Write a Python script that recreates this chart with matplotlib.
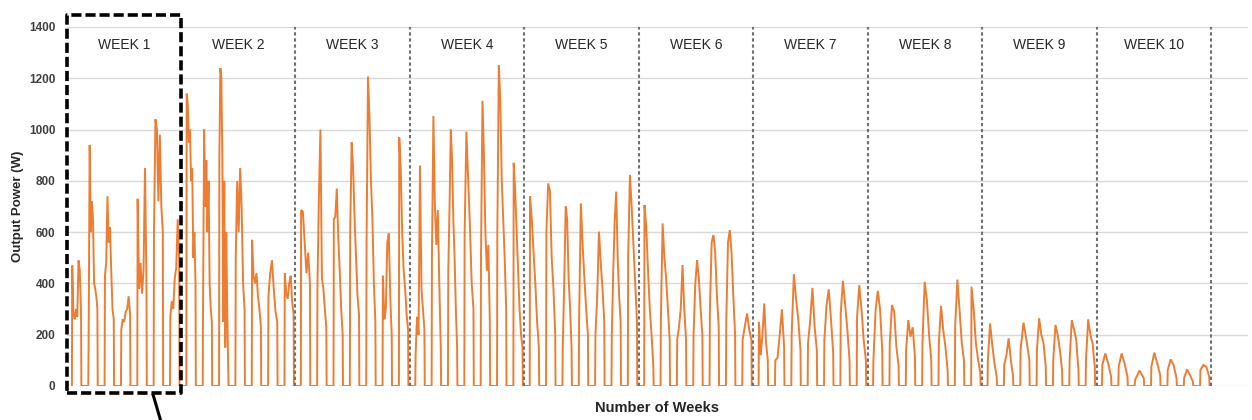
import numpy as np
import matplotlib
matplotlib.use("Agg")
import matplotlib.pyplot as plt

plt.rcParams['font.family'] = ['Liberation Sans', 'DejaVu Sans']

# ---------------- data ----------------
week_labels = ["WEEK 1", "WEEK 2", "WEEK 3", "WEEK 4", "WEEK 5",
               "WEEK 6", "WEEK 7", "WEEK 8", "WEEK 9", "WEEK 10"]
y_ticks = [0, 200, 400, 600, 800, 1000, 1200, 1400]

# daylight readings of output power (W) for each day, in time order
week1_days = [
    [470, 280, 260, 300, 270, 490, 450, 280],
    [150, 940, 600, 720, 650, 400, 380, 350, 300],
    [430, 480, 740, 560, 620, 450, 300, 260],
    [220, 260, 250, 290, 300, 350, 280],
    [730, 380, 480, 360, 450, 850, 400],
    [600, 1040, 1000, 720, 980, 700, 600],
    [270, 330, 300, 420, 460, 650, 500],
]
week2_days = [
    [1140, 1100, 950, 1000, 800, 850, 500, 600, 400],
    [300, 1000, 700, 880, 600, 800, 400, 300, 250],
    [900, 1240, 1200, 900, 250, 800, 150, 600, 300, 80],
    [500, 800, 600, 850, 700, 400, 300],
    [570, 430, 400, 440, 350, 300, 230],
    [350, 440, 490, 380, 290, 250],
    [440, 360, 340, 400, 430, 330, 280],
]
week3_days = [
    [686, 680, 560, 440, 520, 400],
    [400, 750, 1000, 420, 380, 300, 230],
    [650, 660, 770, 580, 450, 300, 200],
    [600, 950, 850, 650, 500, 350, 280],
    [550, 1206, 1050, 800, 650, 400, 250],
    [430, 260, 300, 560, 595, 350, 200],
    [970, 850, 600, 450, 380, 280, 220],
]
week4_days = [
    [120, 270, 200, 860, 380, 300, 220],
    [500, 1053, 700, 550, 686, 400, 150],
    [450, 700, 1000, 880, 650, 500, 300, 150],
    [600, 992, 800, 620, 400, 300],
    [500, 1112, 900, 600, 450, 550, 250],
    [600, 1250, 1115, 800, 650, 500, 300],
    [870, 760, 600, 450, 300, 200, 150],
]
week5_days = [
    [740, 650, 520, 400, 250, 150],
    [600, 790, 760, 500, 380, 200],
    [150, 400, 700, 650, 420, 300, 150],
    [250, 712, 550, 420, 300, 200],
    [200, 350, 602, 480, 380, 250],
    [200, 450, 650, 758, 500, 350, 250],
    [500, 823, 700, 550, 400, 250],
]
week6_days = [
    [706, 620, 450, 300, 200, 80],
    [250, 634, 500, 420, 300, 180],
    [180, 230, 300, 472, 300, 180],
    [200, 400, 491, 420, 300, 200],
    [300, 560, 589, 520, 350, 230],
    [250, 560, 608, 520, 350, 200],
    [180, 231, 283, 220, 180],
]
week7_days = [
    [250, 120, 200, 322, 170, 100],
    [100, 110, 200, 299, 150],
    [200, 436, 340, 260, 140],
    [166, 257, 383, 231, 140],
    [180, 316, 377, 260, 130],
    [283, 410, 320, 220, 100],
    [270, 393, 300, 180, 100],
]
week8_days = [
    [101, 296, 371, 300, 140],
    [166, 316, 290, 153, 80],
    [140, 257, 192, 229, 114],
    [166, 406, 335, 200, 100],
    [166, 312, 218, 153, 60],
    [231, 415, 296, 166, 101],
    [387, 296, 166, 101, 50],
]
week9_days = [
    [100, 244, 160, 88, 36],
    [82, 120, 186, 101, 40],
    [140, 247, 180, 101],
    [140, 264, 200, 166, 75],
    [101, 238, 200, 140, 62],
    [101, 257, 220, 180, 62],
    [101, 260, 200, 166, 75],
]
week10_days = [
    [82, 127, 88, 36],
    [75, 127, 88, 36],
    [23, 60, 30],
    [75, 130, 88, 43],
    [62, 104, 82, 30],
    [30, 65, 43, 17],
    [62, 82, 75, 36],
]

all_weeks = [week1_days, week2_days, week3_days, week4_days, week5_days,
             week6_days, week7_days, week8_days, week9_days, week10_days]

# ---------------- build the time series (x in days) ----------------
SUNRISE, SUNSET = 0.33, 0.91
t_parts, p_parts = [], []
day = 0
for week in all_weeks:
    for vals in week:
        n = len(vals)
        t = day + np.linspace(SUNRISE + 0.02, SUNSET - 0.02, n)
        t_parts.append(np.concatenate([[day + SUNRISE], t, [day + SUNSET]]))
        p_parts.append(np.concatenate([[0], vals, [0]]))
        day += 1
time = np.concatenate(t_parts)
power = np.concatenate(p_parts)
n_weeks = len(all_weeks)

# ---------------- figure ----------------
W, H = 1252, 420
fig = plt.figure(figsize=(W / 100, H / 100), dpi=100)
x0, x1 = 66.5, 1248
y0, y1 = 386, 27
ax = fig.add_axes([x0 / W, 1 - y0 / H, (x1 - x0) / W, (y0 - y1) / H])

ax.set_xlim(0, 72.26)
ax.set_ylim(0, 1400)

ax.set_yticks(y_ticks)
ax.set_yticklabels([str(v) for v in y_ticks], fontsize=8.5,
                   fontweight='bold', color='#404040')
ax.set_xticks([])
ax.tick_params(axis='y', length=0, pad=8)
for s in ax.spines.values():
    s.set_visible(False)
ax.grid(axis='y', color='#d9d9d9', linewidth=1.0)
ax.set_axisbelow(True)

# data line
ax.plot(time, power, color='#ED7D31', linewidth=1.4, zorder=3,
        solid_joinstyle='miter')

# week separators
for w in range(2, n_weeks + 1):
    ax.plot([7 * w, 7 * w], [0, 1400], color='#707070', linewidth=1.5,
            linestyle=(0, (1.6, 1.3)), zorder=4)

# week labels
for i, lab in enumerate(week_labels):
    ax.text(7 * i + 3.5, 1328, lab, ha='center', va='center',
            fontsize=10, color='#262626', zorder=5)

# highlighted week 1 box
box_x = [0, 7, 7, 0, 0]
box_y = [-27, -27, 1447, 1447, -27]
ax.plot(box_x, box_y, color='black', linewidth=2.6,
        linestyle=(0, (2.8, 1.1)), clip_on=False, zorder=6)
ax.plot([5.30, 5.75], [-35, -133], color='black', linewidth=2.2,
        clip_on=False, zorder=6)

ax.set_ylabel("Output Power (W)", fontsize=9.5, fontweight='bold',
              color='#262626')
ax.yaxis.set_label_coords((24 - x0) / (x1 - x0), 0.5)
ax.set_xlabel("Number of Weeks", fontsize=10.5, fontweight='bold',
              color='#262626')
ax.xaxis.set_label_coords(0.5, -(401 - y0) / (y0 - y1))

fig.savefig("out.png", dpi=100)
